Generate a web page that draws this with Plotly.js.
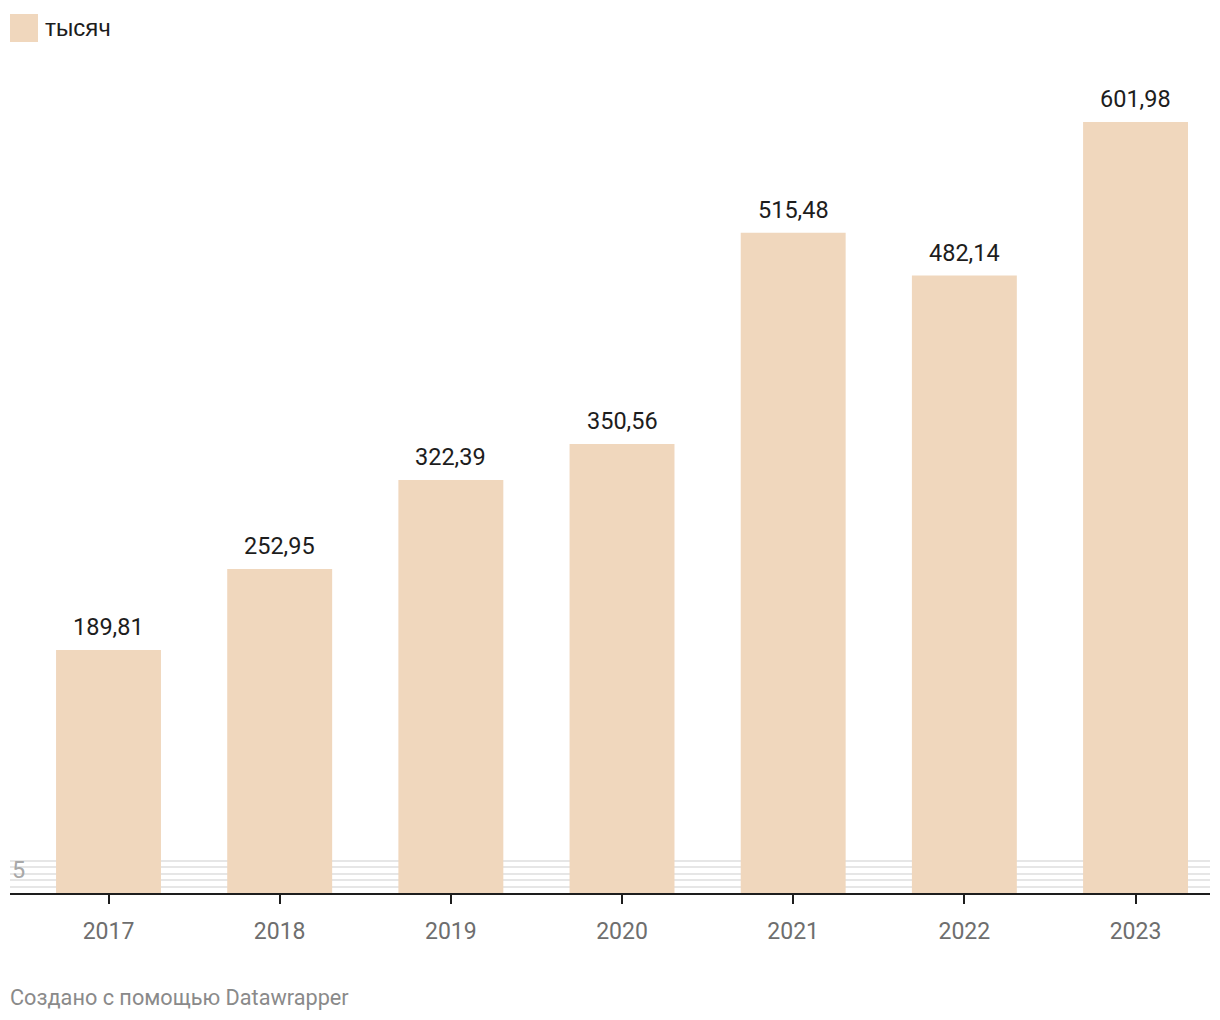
<!DOCTYPE html>
<html>
<head>
<meta charset="utf-8">
<script src="https://cdn.plot.ly/plotly-3.0.1.min.js"></script>
<style>
  html, body { margin: 0; padding: 0; background: #fff; }
  #chart { width: 1220px; height: 1020px; }
</style>
</head>
<body>
<div id="chart"></div>
<script>
// ---- data ----
const years = ['2017', '2018', '2019', '2020', '2021', '2022', '2023'];
const values = [189.81, 252.95, 322.39, 350.56, 515.48, 482.14, 601.98];
const seriesName = 'тысяч';
const gridValues = [5, 10, 15, 20, 25];
const axisLabel = '5';
const footerText = 'Создано с помощью Datawrapper';

const barColor = '#f0d7bd';
const fmt = v => v.toFixed(2).replace('.', ',');

const trace = {
  type: 'bar',
  x: years,
  y: values,
  name: seriesName,
  marker: { color: barColor, line: { width: 0 } },
  hoverinfo: 'x+y',
  showlegend: false
};

// value labels: category axis positions addressed by index
const annotations = years.map((yr, i) => ({
  x: i, y: values[i], xref: 'x', yref: 'y',
  text: fmt(values[i]),
  showarrow: false, yanchor: 'bottom', yshift: 7,
  font: { family: 'Roboto, sans-serif', size: 23.5, color: '#1d1d1d' }
}));

annotations.push({
  x: 0, y: gridValues[3], xref: 'paper', yref: 'y',
  text: axisLabel, showarrow: false, xanchor: 'left', yanchor: 'middle',
  xshift: 0, yshift: -3,
  font: { family: 'Roboto, sans-serif', size: 23.5, color: '#a8a8a8' }
});

annotations.push({
  x: 0.0275, y: 1.0384, xref: 'paper', yref: 'paper',
  text: seriesName, showarrow: false, xanchor: 'left', yanchor: 'middle',
  yshift: 1,
  font: { family: '"Liberation Sans", Arial, sans-serif', size: 24, color: '#1d1d1d' }
});

annotations.push({
  x: 0, y: 0, xref: 'paper', yref: 'paper',
  text: footerText, showarrow: false, xanchor: 'left', yanchor: 'middle',
  yshift: -104, xshift: -2,
  font: { family: 'Roboto, sans-serif', size: 21.7, color: '#8a8a8a' }
});

const layout = {
  width: 1220,
  height: 1020,
  margin: { l: 10, r: 10, t: 60, b: 127 },
  paper_bgcolor: '#ffffff',
  plot_bgcolor: '#ffffff',
  bargap: 0.387,
  xaxis: {
    type: 'category',
    range: [-0.5755, 6.435],
    showline: true, linecolor: '#1d1d1d', linewidth: 2,
    ticks: 'outside', ticklen: 9, tickwidth: 2, tickcolor: '#1d1d1d',
    ticklabelstandoff: 7,
    tickfont: { family: 'Roboto, sans-serif', size: 23, color: '#6e6e6e' },
    showgrid: false, zeroline: false, fixedrange: true
  },
  yaxis: {
    range: [0, 650.4],
    tickvals: gridValues,
    showticklabels: false,
    showgrid: true, gridcolor: '#e6e6e6', gridwidth: 2,
    zeroline: false, showline: false, fixedrange: true
  },
  shapes: [{
    type: 'rect', xref: 'paper', yref: 'paper',
    x0: 0, x1: 0.02333, y0: 1.0216, y1: 1.0552,
    fillcolor: barColor, line: { width: 0 }
  }],
  annotations: annotations,
  showlegend: false
};

Plotly.newPlot('chart', [trace], layout, { displayModeBar: false, staticPlot: true });
</script>
</body>
</html>
